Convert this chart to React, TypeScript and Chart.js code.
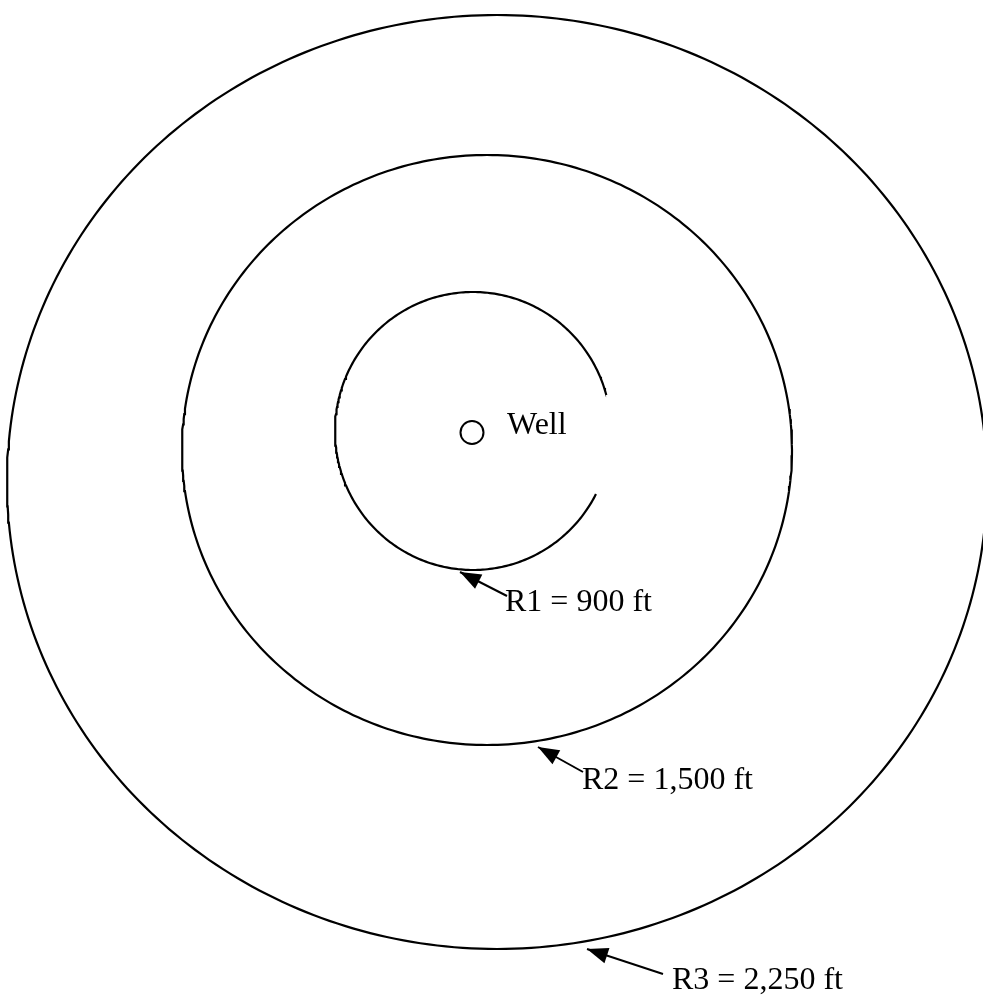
import { useEffect, useRef } from 'react';
import { Chart, registerables } from 'chart.js';

Chart.register(...registerables);

// Rings (drawn radii in the picture's own units, not to scale)
const ringLabels = ['R1 = 900 ft', 'R2 = 1,500 ft', 'R3 = 2,250 ft'];
const ringCenterX = [473, 487, 497];
const ringCenterY = [431, 450, 482];
const ringRadiusX = [138, 305, 490];
const ringRadiusY = [139, 295, 467];
const ringArcStartDeg = [27, 0, 0];
const ringArcEndDeg = [345, 360, 360];

// Ring labels and arrows
const labelX = [505, 582, 672];
const labelY = [611, 789, 989];
const arrowTipX = [460, 538, 587];
const arrowTipY = [572, 747, 949];
const arrowTailX = [507, 583, 663];
const arrowTailY = [596, 772, 974];

// Well
const wellX = [472];
const wellY = [432.5];
const wellLabel = 'Well';
const wellLabelX = [507];
const wellLabelY = [434];

const W = 983;
const H = 998;
const FONT = '32px "Liberation Serif", "Times New Roman", serif';

function ringPoints(i: number) {
  const pts: { x: number; y: number }[] = [];
  for (let d = ringArcStartDeg[i]; d <= ringArcEndDeg[i]; d += 1) {
    const t = (d * Math.PI) / 180;
    pts.push({ x: ringCenterX[i] + ringRadiusX[i] * Math.cos(t), y: ringCenterY[i] + ringRadiusY[i] * Math.sin(t) });
  }
  return pts;
}

const annotationPlugin = {
  id: 'wellAnnotations',
  afterDatasetsDraw(chart: any) {
    const ctx = chart.ctx as CanvasRenderingContext2D;
    const xs = chart.scales.x;
    const ys = chart.scales.y;
    ctx.save();
    // arrowheads
    for (let i = 0; i < arrowTipX.length; i++) {
      const tx = xs.getPixelForValue(arrowTipX[i]);
      const ty = ys.getPixelForValue(arrowTipY[i]);
      const sx = xs.getPixelForValue(arrowTailX[i]);
      const sy = ys.getPixelForValue(arrowTailY[i]);
      const dx = tx - sx;
      const dy = ty - sy;
      const len = Math.hypot(dx, dy);
      const ux = dx / len;
      const uy = dy / len;
      const L = 21;
      const hw = 8;
      const bx = tx - ux * L;
      const by = ty - uy * L;
      ctx.beginPath();
      ctx.moveTo(tx, ty);
      ctx.lineTo(bx - uy * hw, by + ux * hw);
      ctx.lineTo(bx + uy * hw, by - ux * hw);
      ctx.closePath();
      ctx.fillStyle = '#000';
      ctx.fill();
    }
    // labels
    ctx.font = FONT;
    ctx.fillStyle = '#000';
    ctx.textAlign = 'left';
    ctx.textBaseline = 'alphabetic';
    for (let i = 0; i < ringLabels.length; i++) {
      ctx.fillText(ringLabels[i], xs.getPixelForValue(labelX[i]), ys.getPixelForValue(labelY[i]));
    }
    ctx.fillText(wellLabel, xs.getPixelForValue(wellLabelX[0]), ys.getPixelForValue(wellLabelY[0]));
    ctx.restore();
  },
};

export default function App() {
  const ref = useRef<HTMLCanvasElement | null>(null);
  useEffect(() => {
    if (!ref.current) return;
    const datasets: any[] = [];
    for (let i = 0; i < ringLabels.length; i++) {
      datasets.push({
        label: ringLabels[i],
        data: ringPoints(i),
        showLine: true,
        borderColor: '#000',
        borderWidth: 2.2,
        pointRadius: 0,
        tension: 0,
        fill: false,
      });
    }
    for (let i = 0; i < arrowTipX.length; i++) {
      datasets.push({
        label: 'arrow' + i,
        data: [
          { x: arrowTailX[i], y: arrowTailY[i] },
          { x: arrowTipX[i], y: arrowTipY[i] },
        ],
        showLine: true,
        borderColor: '#000',
        borderWidth: 2,
        pointRadius: 0,
        fill: false,
      });
    }
    datasets.push({
      label: wellLabel,
      data: wellX.map((x, i) => ({ x, y: wellY[i] })),
      showLine: false,
      pointRadius: 11.5,
      pointBorderWidth: 2,
      pointBackgroundColor: '#fff',
      pointBorderColor: '#000',
    });
    const chart = new Chart(ref.current, {
      type: 'scatter',
      data: { datasets },
      options: {
        animation: false,
        responsive: false,
        devicePixelRatio: 1,
        layout: { padding: 0, autoPadding: false },
        plugins: { legend: { display: false }, tooltip: { enabled: false } },
        events: [],
        scales: {
          x: { type: 'linear', min: 0, max: W, display: false },
          y: { type: 'linear', min: 0, max: H, reverse: true, display: false },
        },
      },
      plugins: [annotationPlugin],
    });
    return () => chart.destroy();
  }, []);
  return (
    <div style={{ position: 'fixed', left: 0, top: 0, width: W, height: H, background: '#fff' }}>
      <canvas ref={ref} width={W} height={H} style={{ display: 'block', width: W, height: H }} />
    </div>
  );
}
